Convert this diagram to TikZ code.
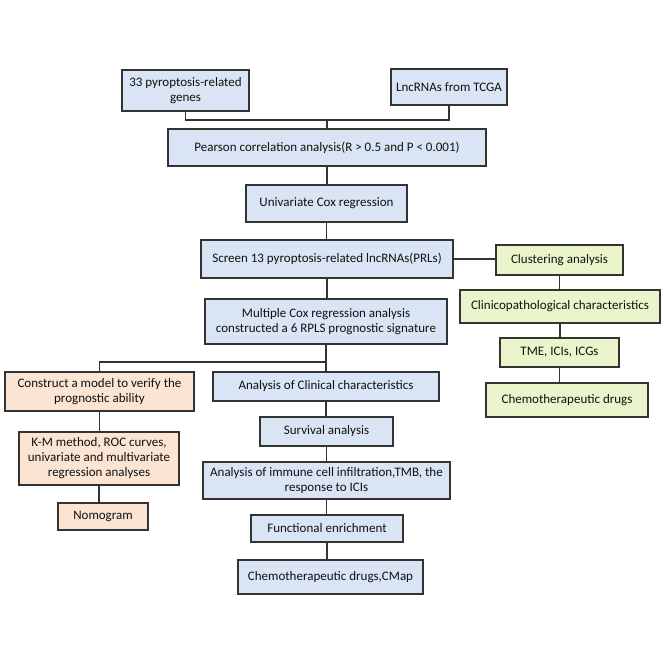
\documentclass[tikz,border=0pt]{standalone}
\usepackage{fontspec}
\setmainfont{Carlito}
\definecolor{bfill}{HTML}{D9E4F5}
\definecolor{gfill}{HTML}{EBF5CC}
\definecolor{ofill}{HTML}{FCE4D2}
\definecolor{edge}{HTML}{333333}
\definecolor{txt}{HTML}{111111}
\begin{document}
\begin{tikzpicture}[x=1pt,y=-1pt,
  box/.style={draw=edge,line width=1.7pt,inner sep=0pt,align=center,text=txt,font=\fontsize{13}{15}\selectfont},
  bbox/.style={box,fill=bfill},
  gbox/.style={box,fill=gfill},
  obox/.style={box,fill=ofill},
  conn/.style={draw=edge,line width=1.5pt}]
\useasboundingbox[fill=white] (0,0) rectangle (664,664);
% blue main column
\node[bbox,minimum width=127pt,minimum height=41pt] (n1) at (185.5,90.5) {33 pyroptosis-related\\genes};
\node[bbox,minimum width=116pt,minimum height=36pt] (n2) at (449,87) {LncRNAs from TCGA};
\node[bbox,minimum width=318pt,minimum height=37pt] (pearson) at (327,147.5) {Pearson correlation analysis(R > 0.5 and P < 0.001)};
\node[bbox,minimum width=161pt,minimum height=37pt] (univ) at (326.5,203.5) {Univariate Cox regression};
\node[bbox,minimum width=252pt,minimum height=38pt] (screen) at (327,259) {Screen 13 pyroptosis-related lncRNAs(PRLs)};
\node[bbox,minimum width=242pt,minimum height=45pt] (multi) at (326,321.5) {Multiple Cox regression analysis\\constructed a 6 RPLS prognostic signature};
\node[bbox,minimum width=226pt,minimum height=29pt] (clin) at (326,386.5) {Analysis of Clinical characteristics};
\node[bbox,minimum width=133pt,minimum height=29pt] (surv) at (326.5,431.5) {Survival analysis};
\node[bbox,minimum width=247pt,minimum height=37pt] (immune) at (326.5,480.5) {Analysis of immune cell infiltration,TMB, the\\response to ICIs};
\node[bbox,minimum width=152pt,minimum height=27pt] (func) at (327,528.5) {Functional enrichment};
\node[bbox,minimum width=185pt,minimum height=34pt] (cmap) at (330.5,577) {Chemotherapeutic drugs,CMap};
% green column
\node[gbox,minimum width=127pt,minimum height=30pt] (clust) at (559.5,260) {Clustering analysis};
\node[gbox,minimum width=200pt,minimum height=33pt] (clinpath) at (560,306.5) {Clinicopathological characteristics};
\node[gbox,minimum width=119pt,minimum height=29pt] (tme) at (559.5,352.5) {TME, ICIs, ICGs};
\node[gbox,minimum width=162pt,minimum height=34pt] (gchemo) at (567,400) {Chemotherapeutic drugs};
% orange column
\node[obox,minimum width=189pt,minimum height=39pt] (construct) at (99.5,391.5) {Construct a model to verify the\\prognostic ability};
\node[obox,minimum width=160pt,minimum height=53pt] (km) at (99,458.5) {K-M method, ROC curves,\\univariate and multivariate\\regression analyses};
\node[obox,minimum width=90pt,minimum height=27pt] (nomo) at (103,516.5) {Nomogram};
% junctions
\coordinate (j1) at (327,120);
\coordinate (j2) at (327,362);
% connectors
\draw[conn] (n1.south) |- (j1) -| (n2.south);
\draw[conn] (j1) -- (pearson.north);
\draw[conn] (pearson.south) -- (pearson.south |- univ.north);
\draw[conn] (univ.south) -- (univ.south |- screen.north);
\draw[conn] (screen.south) -- (screen.south |- multi.north);
\draw[conn] (multi.south) -- (multi.south |- clin.north);
\draw[conn] (j2) -| (construct.north);
\draw[conn] (clin.south) -- (clin.south |- surv.north);
\draw[conn] (surv.south) -- (surv.south |- immune.north);
\draw[conn] (immune.south) -- (immune.south |- func.north);
\draw[conn] (func.south) -- (func.south |- cmap.north);
\draw[conn] (screen.east) -- (screen.east -| clust.west);
\draw[conn] (clust.south) -- (clust.south |- clinpath.north);
\draw[conn] (clinpath.south) -- (clinpath.south |- tme.north);
\draw[conn] (tme.south) -- (tme.south |- gchemo.north);
\draw[conn] (construct.south) -- (construct.south |- km.north);
\draw[conn] (km.south) -- (km.south |- nomo.north);
\end{tikzpicture}
\end{document}
